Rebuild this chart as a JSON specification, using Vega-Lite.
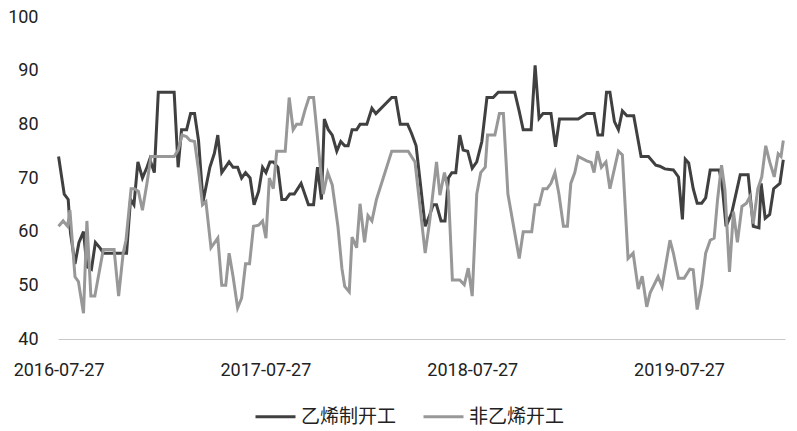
{
"$schema": "https://vega.github.io/schema/vega-lite/v6.json",
"width": 727,
"height": 322,
"autosize": {"type": "none"},
"padding": {"left": 58, "top": 17, "right": 12, "bottom": 92},
"background": "white",
"config": {"view": {"stroke": null}, "font": "Roboto"},
"data": {"values": [
{"date":"2016-07-27","series":"乙烯制开工","rate":74},
{"date":"2016-08-06","series":"乙烯制开工","rate":67},
{"date":"2016-08-13","series":"乙烯制开工","rate":66},
{"date":"2016-08-17","series":"乙烯制开工","rate":59.8},
{"date":"2016-08-25","series":"乙烯制开工","rate":54},
{"date":"2016-09-01","series":"乙烯制开工","rate":58},
{"date":"2016-09-09","series":"乙烯制开工","rate":60},
{"date":"2016-09-15","series":"乙烯制开工","rate":53.5},
{"date":"2016-09-23","series":"乙烯制开工","rate":53},
{"date":"2016-09-30","series":"乙烯制开工","rate":58},
{"date":"2016-10-08","series":"乙烯制开工","rate":57},
{"date":"2016-10-14","series":"乙烯制开工","rate":56},
{"date":"2016-11-24","series":"乙烯制开工","rate":56},
{"date":"2016-12-01","series":"乙烯制开工","rate":66},
{"date":"2016-12-07","series":"乙烯制开工","rate":65},
{"date":"2016-12-14","series":"乙烯制开工","rate":73},
{"date":"2016-12-22","series":"乙烯制开工","rate":70},
{"date":"2016-12-30","series":"乙烯制开工","rate":72},
{"date":"2017-01-04","series":"乙烯制开工","rate":73.5},
{"date":"2017-01-12","series":"乙烯制开工","rate":71},
{"date":"2017-01-19","series":"乙烯制开工","rate":86},
{"date":"2017-02-16","series":"乙烯制开工","rate":86},
{"date":"2017-02-23","series":"乙烯制开工","rate":72},
{"date":"2017-03-01","series":"乙烯制开工","rate":79},
{"date":"2017-03-10","series":"乙烯制开工","rate":79},
{"date":"2017-03-17","series":"乙烯制开工","rate":82},
{"date":"2017-03-24","series":"乙烯制开工","rate":82},
{"date":"2017-03-31","series":"乙烯制开工","rate":77},
{"date":"2017-04-08","series":"乙烯制开工","rate":65.6},
{"date":"2017-04-20","series":"乙烯制开工","rate":72},
{"date":"2017-04-28","series":"乙烯制开工","rate":74.6},
{"date":"2017-05-04","series":"乙烯制开工","rate":78},
{"date":"2017-05-11","series":"乙烯制开工","rate":71},
{"date":"2017-05-24","series":"乙烯制开工","rate":73},
{"date":"2017-05-31","series":"乙烯制开工","rate":72},
{"date":"2017-06-08","series":"乙烯制开工","rate":72},
{"date":"2017-06-15","series":"乙烯制开工","rate":70},
{"date":"2017-06-22","series":"乙烯制开工","rate":71},
{"date":"2017-06-30","series":"乙烯制开工","rate":70},
{"date":"2017-07-07","series":"乙烯制开工","rate":65},
{"date":"2017-07-15","series":"乙烯制开工","rate":67.5},
{"date":"2017-07-22","series":"乙烯制开工","rate":72},
{"date":"2017-07-28","series":"乙烯制开工","rate":71},
{"date":"2017-08-04","series":"乙烯制开工","rate":73},
{"date":"2017-08-10","series":"乙烯制开工","rate":73},
{"date":"2017-08-18","series":"乙烯制开工","rate":72},
{"date":"2017-08-25","series":"乙烯制开工","rate":66},
{"date":"2017-09-01","series":"乙烯制开工","rate":66},
{"date":"2017-09-08","series":"乙烯制开工","rate":67},
{"date":"2017-09-16","series":"乙烯制开工","rate":67},
{"date":"2017-09-28","series":"乙烯制开工","rate":69},
{"date":"2017-10-11","series":"乙烯制开工","rate":65},
{"date":"2017-10-20","series":"乙烯制开工","rate":65},
{"date":"2017-10-27","series":"乙烯制开工","rate":72},
{"date":"2017-11-03","series":"乙烯制开工","rate":66},
{"date":"2017-11-08","series":"乙烯制开工","rate":81},
{"date":"2017-11-15","series":"乙烯制开工","rate":79},
{"date":"2017-11-22","series":"乙烯制开工","rate":78},
{"date":"2017-11-30","series":"乙烯制开工","rate":75},
{"date":"2017-12-07","series":"乙烯制开工","rate":76.8},
{"date":"2017-12-14","series":"乙烯制开工","rate":76},
{"date":"2017-12-20","series":"乙烯制开工","rate":76},
{"date":"2017-12-27","series":"乙烯制开工","rate":79},
{"date":"2018-01-04","series":"乙烯制开工","rate":79},
{"date":"2018-01-10","series":"乙烯制开工","rate":80},
{"date":"2018-01-22","series":"乙烯制开工","rate":80},
{"date":"2018-01-31","series":"乙烯制开工","rate":83},
{"date":"2018-02-07","series":"乙烯制开工","rate":82},
{"date":"2018-03-07","series":"乙烯制开工","rate":85},
{"date":"2018-03-14","series":"乙烯制开工","rate":85},
{"date":"2018-03-22","series":"乙烯制开工","rate":80},
{"date":"2018-04-04","series":"乙烯制开工","rate":80},
{"date":"2018-04-11","series":"乙烯制开工","rate":78.3},
{"date":"2018-04-19","series":"乙烯制开工","rate":76},
{"date":"2018-05-05","series":"乙烯制开工","rate":61},
{"date":"2018-05-12","series":"乙烯制开工","rate":62.8},
{"date":"2018-05-19","series":"乙烯制开工","rate":65},
{"date":"2018-05-25","series":"乙烯制开工","rate":65},
{"date":"2018-06-02","series":"乙烯制开工","rate":62},
{"date":"2018-06-09","series":"乙烯制开工","rate":62},
{"date":"2018-06-15","series":"乙烯制开工","rate":70},
{"date":"2018-06-21","series":"乙烯制开工","rate":71},
{"date":"2018-06-28","series":"乙烯制开工","rate":71},
{"date":"2018-07-05","series":"乙烯制开工","rate":78},
{"date":"2018-07-11","series":"乙烯制开工","rate":75.2},
{"date":"2018-07-19","series":"乙烯制开工","rate":75},
{"date":"2018-07-27","series":"乙烯制开工","rate":71.8},
{"date":"2018-08-04","series":"乙烯制开工","rate":73},
{"date":"2018-08-13","series":"乙烯制开工","rate":76.8},
{"date":"2018-08-22","series":"乙烯制开工","rate":85},
{"date":"2018-09-02","series":"乙烯制开工","rate":85},
{"date":"2018-09-11","series":"乙烯制开工","rate":86},
{"date":"2018-10-10","series":"乙烯制开工","rate":86},
{"date":"2018-10-18","series":"乙烯制开工","rate":82.4},
{"date":"2018-10-25","series":"乙烯制开工","rate":79},
{"date":"2018-11-08","series":"乙烯制开工","rate":79},
{"date":"2018-11-15","series":"乙烯制开工","rate":91},
{"date":"2018-11-22","series":"乙烯制开工","rate":81.1},
{"date":"2018-11-29","series":"乙烯制开工","rate":82},
{"date":"2018-12-13","series":"乙烯制开工","rate":82},
{"date":"2018-12-21","series":"乙烯制开工","rate":75.8},
{"date":"2018-12-28","series":"乙烯制开工","rate":81},
{"date":"2019-01-30","series":"乙烯制开工","rate":81},
{"date":"2019-02-14","series":"乙烯制开工","rate":82},
{"date":"2019-02-27","series":"乙烯制开工","rate":82},
{"date":"2019-03-06","series":"乙烯制开工","rate":78},
{"date":"2019-03-14","series":"乙烯制开工","rate":78},
{"date":"2019-03-21","series":"乙烯制开工","rate":86},
{"date":"2019-03-27","series":"乙烯制开工","rate":86},
{"date":"2019-04-04","series":"乙烯制开工","rate":80.5},
{"date":"2019-04-11","series":"乙烯制开工","rate":79},
{"date":"2019-04-18","series":"乙烯制开工","rate":82.5},
{"date":"2019-04-26","series":"乙烯制开工","rate":81.6},
{"date":"2019-05-08","series":"乙烯制开工","rate":81.6},
{"date":"2019-05-21","series":"乙烯制开工","rate":74},
{"date":"2019-06-03","series":"乙烯制开工","rate":74},
{"date":"2019-06-16","series":"乙烯制开工","rate":72.4},
{"date":"2019-06-23","series":"乙烯制开工","rate":72.2},
{"date":"2019-07-02","series":"乙烯制开工","rate":71.7},
{"date":"2019-07-17","series":"乙烯制开工","rate":71.5},
{"date":"2019-07-26","series":"乙烯制开工","rate":70.2},
{"date":"2019-08-02","series":"乙烯制开工","rate":62.3},
{"date":"2019-08-07","series":"乙烯制开工","rate":73.5},
{"date":"2019-08-13","series":"乙烯制开工","rate":72.8},
{"date":"2019-08-21","series":"乙烯制开工","rate":68},
{"date":"2019-08-28","series":"乙烯制开工","rate":65.3},
{"date":"2019-09-05","series":"乙烯制开工","rate":65.3},
{"date":"2019-09-12","series":"乙烯制开工","rate":66.3},
{"date":"2019-09-20","series":"乙烯制开工","rate":71.5},
{"date":"2019-10-06","series":"乙烯制开工","rate":71.5},
{"date":"2019-10-11","series":"乙烯制开工","rate":68.7},
{"date":"2019-10-18","series":"乙烯制开工","rate":61},
{"date":"2019-10-28","series":"乙烯制开工","rate":63.5},
{"date":"2019-11-12","series":"乙烯制开工","rate":70.6},
{"date":"2019-11-26","series":"乙烯制开工","rate":70.6},
{"date":"2019-12-05","series":"乙烯制开工","rate":61},
{"date":"2019-12-15","series":"乙烯制开工","rate":60.7},
{"date":"2019-12-19","series":"乙烯制开工","rate":69},
{"date":"2019-12-26","series":"乙烯制开工","rate":62.5},
{"date":"2020-01-03","series":"乙烯制开工","rate":63.2},
{"date":"2020-01-10","series":"乙烯制开工","rate":68},
{"date":"2020-01-21","series":"乙烯制开工","rate":69},
{"date":"2020-01-27","series":"乙烯制开工","rate":73.4},
{"date":"2016-07-27","series":"非乙烯开工","rate":61},
{"date":"2016-08-04","series":"非乙烯开工","rate":62},
{"date":"2016-08-12","series":"非乙烯开工","rate":61},
{"date":"2016-08-16","series":"非乙烯开工","rate":64},
{"date":"2016-08-25","series":"非乙烯开工","rate":51.6},
{"date":"2016-08-31","series":"非乙烯开工","rate":50.7},
{"date":"2016-09-09","series":"非乙烯开工","rate":44.8},
{"date":"2016-09-15","series":"非乙烯开工","rate":62},
{"date":"2016-09-22","series":"非乙烯开工","rate":48},
{"date":"2016-09-29","series":"非乙烯开工","rate":48},
{"date":"2016-10-14","series":"非乙烯开工","rate":56.7},
{"date":"2016-11-02","series":"非乙烯开工","rate":56.7},
{"date":"2016-11-10","series":"非乙烯开工","rate":48},
{"date":"2016-11-18","series":"非乙烯开工","rate":56},
{"date":"2016-11-23","series":"非乙烯开工","rate":58.4},
{"date":"2016-12-02","series":"非乙烯开工","rate":68},
{"date":"2016-12-08","series":"非乙烯开工","rate":68},
{"date":"2016-12-15","series":"非乙烯开工","rate":67.5},
{"date":"2016-12-22","series":"非乙烯开工","rate":64},
{"date":"2016-12-30","series":"非乙烯开工","rate":69},
{"date":"2017-01-06","series":"非乙烯开工","rate":74},
{"date":"2017-02-16","series":"非乙烯开工","rate":74},
{"date":"2017-02-23","series":"非乙烯开工","rate":75.2},
{"date":"2017-03-02","series":"非乙烯开工","rate":78},
{"date":"2017-03-10","series":"非乙烯开工","rate":77.7},
{"date":"2017-03-16","series":"非乙烯开工","rate":77},
{"date":"2017-03-24","series":"非乙烯开工","rate":76.8},
{"date":"2017-03-31","series":"非乙烯开工","rate":71.5},
{"date":"2017-04-07","series":"非乙烯开工","rate":65},
{"date":"2017-04-13","series":"非乙烯开工","rate":65.6},
{"date":"2017-04-22","series":"非乙烯开工","rate":57},
{"date":"2017-05-04","series":"非乙烯开工","rate":58.8},
{"date":"2017-05-11","series":"非乙烯开工","rate":50},
{"date":"2017-05-18","series":"非乙烯开工","rate":50},
{"date":"2017-05-24","series":"非乙烯开工","rate":56},
{"date":"2017-05-31","series":"非乙烯开工","rate":51.6},
{"date":"2017-06-08","series":"非乙烯开工","rate":45.8},
{"date":"2017-06-15","series":"非乙烯开工","rate":47.6},
{"date":"2017-06-22","series":"非乙烯开工","rate":54},
{"date":"2017-06-29","series":"非乙烯开工","rate":54},
{"date":"2017-07-06","series":"非乙烯开工","rate":61},
{"date":"2017-07-15","series":"非乙烯开工","rate":61.2},
{"date":"2017-07-22","series":"非乙烯开工","rate":62},
{"date":"2017-07-28","series":"非乙烯开工","rate":58.8},
{"date":"2017-08-03","series":"非乙烯开工","rate":70},
{"date":"2017-08-10","series":"非乙烯开工","rate":68},
{"date":"2017-08-16","series":"非乙烯开工","rate":75},
{"date":"2017-08-31","series":"非乙烯开工","rate":75},
{"date":"2017-09-07","series":"非乙烯开工","rate":85},
{"date":"2017-09-14","series":"非乙烯开工","rate":79},
{"date":"2017-09-20","series":"非乙烯开工","rate":80},
{"date":"2017-09-28","series":"非乙烯开工","rate":80},
{"date":"2017-10-05","series":"非乙烯开工","rate":82.7},
{"date":"2017-10-12","series":"非乙烯开工","rate":85},
{"date":"2017-10-20","series":"非乙烯开工","rate":85},
{"date":"2017-10-26","series":"非乙烯开工","rate":78.6},
{"date":"2017-10-31","series":"非乙烯开工","rate":73},
{"date":"2017-11-06","series":"非乙烯开工","rate":67},
{"date":"2017-11-14","series":"非乙烯开工","rate":71},
{"date":"2017-11-22","series":"非乙烯开工","rate":68.7},
{"date":"2017-12-02","series":"非乙烯开工","rate":61},
{"date":"2017-12-09","series":"非乙烯开工","rate":53.2},
{"date":"2017-12-14","series":"非乙烯开工","rate":49.8},
{"date":"2017-12-22","series":"非乙烯开工","rate":48.8},
{"date":"2017-12-27","series":"非乙烯开工","rate":59},
{"date":"2018-01-04","series":"非乙烯开工","rate":57},
{"date":"2018-01-10","series":"非乙烯开工","rate":65.2},
{"date":"2018-01-18","series":"非乙烯开工","rate":58},
{"date":"2018-01-24","series":"非乙烯开工","rate":63},
{"date":"2018-01-31","series":"非乙烯开工","rate":62},
{"date":"2018-02-08","series":"非乙烯开工","rate":66},
{"date":"2018-03-07","series":"非乙烯开工","rate":75},
{"date":"2018-04-05","series":"非乙烯开工","rate":75},
{"date":"2018-04-17","series":"非乙烯开工","rate":73},
{"date":"2018-05-05","series":"非乙烯开工","rate":56},
{"date":"2018-05-13","series":"非乙烯开工","rate":62},
{"date":"2018-05-25","series":"非乙烯开工","rate":73},
{"date":"2018-05-31","series":"非乙烯开工","rate":66.8},
{"date":"2018-06-08","series":"非乙烯开工","rate":71},
{"date":"2018-06-15","series":"非乙烯开工","rate":67.5},
{"date":"2018-06-22","series":"非乙烯开工","rate":51},
{"date":"2018-07-05","series":"非乙烯开工","rate":51},
{"date":"2018-07-13","series":"非乙烯开工","rate":50.1},
{"date":"2018-07-20","series":"非乙烯开工","rate":53.2},
{"date":"2018-07-27","series":"非乙烯开工","rate":48},
{"date":"2018-08-04","series":"非乙烯开工","rate":67},
{"date":"2018-08-11","series":"非乙烯开工","rate":71},
{"date":"2018-08-19","series":"非乙烯开工","rate":72},
{"date":"2018-08-23","series":"非乙烯开工","rate":78},
{"date":"2018-09-05","series":"非乙烯开工","rate":78},
{"date":"2018-09-13","series":"非乙烯开工","rate":82},
{"date":"2018-09-20","series":"非乙烯开工","rate":82},
{"date":"2018-09-28","series":"非乙烯开工","rate":67},
{"date":"2018-10-18","series":"非乙烯开工","rate":55},
{"date":"2018-10-25","series":"非乙烯开工","rate":60},
{"date":"2018-11-09","series":"非乙烯开工","rate":60},
{"date":"2018-11-15","series":"非乙烯开工","rate":65},
{"date":"2018-11-22","series":"非乙烯开工","rate":65},
{"date":"2018-11-29","series":"非乙烯开工","rate":68},
{"date":"2018-12-06","series":"非乙烯开工","rate":68},
{"date":"2018-12-13","series":"非乙烯开工","rate":69},
{"date":"2018-12-20","series":"非乙烯开工","rate":71},
{"date":"2018-12-27","series":"非乙烯开工","rate":67},
{"date":"2019-01-04","series":"非乙烯开工","rate":61},
{"date":"2019-01-11","series":"非乙烯开工","rate":61},
{"date":"2019-01-17","series":"非乙烯开工","rate":69},
{"date":"2019-01-24","series":"非乙烯开工","rate":71},
{"date":"2019-01-30","series":"非乙烯开工","rate":74},
{"date":"2019-02-14","series":"非乙烯开工","rate":73.2},
{"date":"2019-02-22","series":"非乙烯开工","rate":72.9},
{"date":"2019-02-27","series":"非乙烯开工","rate":71},
{"date":"2019-03-05","series":"非乙烯开工","rate":75},
{"date":"2019-03-12","series":"非乙烯开工","rate":72},
{"date":"2019-03-20","series":"非乙烯开工","rate":73},
{"date":"2019-03-27","series":"非乙烯开工","rate":68},
{"date":"2019-04-11","series":"非乙烯开工","rate":75},
{"date":"2019-04-18","series":"非乙烯开工","rate":74.3},
{"date":"2019-04-28","series":"非乙烯开工","rate":55},
{"date":"2019-05-07","series":"非乙烯开工","rate":56},
{"date":"2019-05-16","series":"非乙烯开工","rate":49.3},
{"date":"2019-05-23","series":"非乙烯开工","rate":51.7},
{"date":"2019-05-31","series":"非乙烯开工","rate":46},
{"date":"2019-06-06","series":"非乙烯开工","rate":48.6},
{"date":"2019-06-20","series":"非乙烯开工","rate":51.6},
{"date":"2019-06-27","series":"非乙烯开工","rate":49.8},
{"date":"2019-07-11","series":"非乙烯开工","rate":58.4},
{"date":"2019-07-17","series":"非乙烯开工","rate":56},
{"date":"2019-07-26","series":"非乙烯开工","rate":51.3},
{"date":"2019-08-05","series":"非乙烯开工","rate":51.3},
{"date":"2019-08-15","series":"非乙烯开工","rate":53},
{"date":"2019-08-21","series":"非乙烯开工","rate":52.9},
{"date":"2019-08-28","series":"非乙烯开工","rate":45.5},
{"date":"2019-09-05","series":"非乙烯开工","rate":50},
{"date":"2019-09-12","series":"非乙烯开工","rate":56},
{"date":"2019-09-20","series":"非乙烯开工","rate":58.4},
{"date":"2019-09-27","series":"非乙烯开工","rate":58.8},
{"date":"2019-10-03","series":"非乙烯开工","rate":66},
{"date":"2019-10-10","series":"非乙烯开工","rate":72.4},
{"date":"2019-10-16","series":"非乙烯开工","rate":67.8},
{"date":"2019-10-24","series":"非乙烯开工","rate":52.5},
{"date":"2019-10-31","series":"非乙烯开工","rate":63.7},
{"date":"2019-11-07","series":"非乙烯开工","rate":58},
{"date":"2019-11-15","series":"非乙烯开工","rate":64.7},
{"date":"2019-11-23","series":"非乙烯开工","rate":65.3},
{"date":"2019-11-29","series":"非乙烯开工","rate":66.5},
{"date":"2019-12-05","series":"非乙烯开工","rate":61.5},
{"date":"2019-12-13","series":"非乙烯开工","rate":68},
{"date":"2019-12-20","series":"非乙烯开工","rate":70.2},
{"date":"2019-12-27","series":"非乙烯开工","rate":76},
{"date":"2020-01-03","series":"非乙烯开工","rate":73},
{"date":"2020-01-11","series":"非乙烯开工","rate":70.2},
{"date":"2020-01-18","series":"非乙烯开工","rate":74.5},
{"date":"2020-01-23","series":"非乙烯开工","rate":74},
{"date":"2020-01-27","series":"非乙烯开工","rate":77}
]},
"mark": {"type": "line", "strokeWidth": 3},
"encoding": {
  "x": {"field": "date", "type": "temporal",
    "scale": {"type": "utc", "domain": [{"year": 2016, "month": 7, "date": 26, "utc": true}, {"year": 2020, "month": 1, "date": 30, "utc": true}]},
    "axis": {"title": null, "values": [{"year": 2016, "month": 7, "date": 27, "utc": true}, {"year": 2017, "month": 7, "date": 27, "utc": true}, {"year": 2018, "month": 7, "date": 27, "utc": true}, {"year": 2019, "month": 7, "date": 27, "utc": true}],
      "format": "%Y-%m-%d", "grid": false, "ticks": false, "tickSize": 0, "domainColor": "#c8c8c8", "domainWidth": 1,
      "labelFont": "Roboto", "labelFontSize": 18, "labelColor": "#222222", "labelPadding": 22, "labelFlush": false, "labelOverlap": false}},
  "y": {"field": "rate", "type": "quantitative",
    "scale": {"domain": [40, 100], "nice": false, "zero": false},
    "axis": {"title": null, "values": [40, 50, 60, 70, 80, 90, 100], "domain": false, "ticks": false, "tickSize": 0, "grid": false,
      "labelFont": "Roboto", "labelFontSize": 18, "labelColor": "#222222", "labelPadding": 20}},
  "color": {"field": "series", "type": "nominal",
    "scale": {"domain": ["乙烯制开工", "非乙烯开工"], "range": ["#404040", "#989898"]},
    "legend": {"title": null, "orient": "none", "legendX": 196, "legendY": 378, "direction": "horizontal",
      "symbolType": "stroke", "symbolSize": 1600, "symbolStrokeWidth": 3, "padding": 0,
      "labelFont": "Noto Sans CJK SC", "labelFontSize": 19, "labelColor": "#222222", "labelOffset": 4, "columnPadding": 20}}
}
}
